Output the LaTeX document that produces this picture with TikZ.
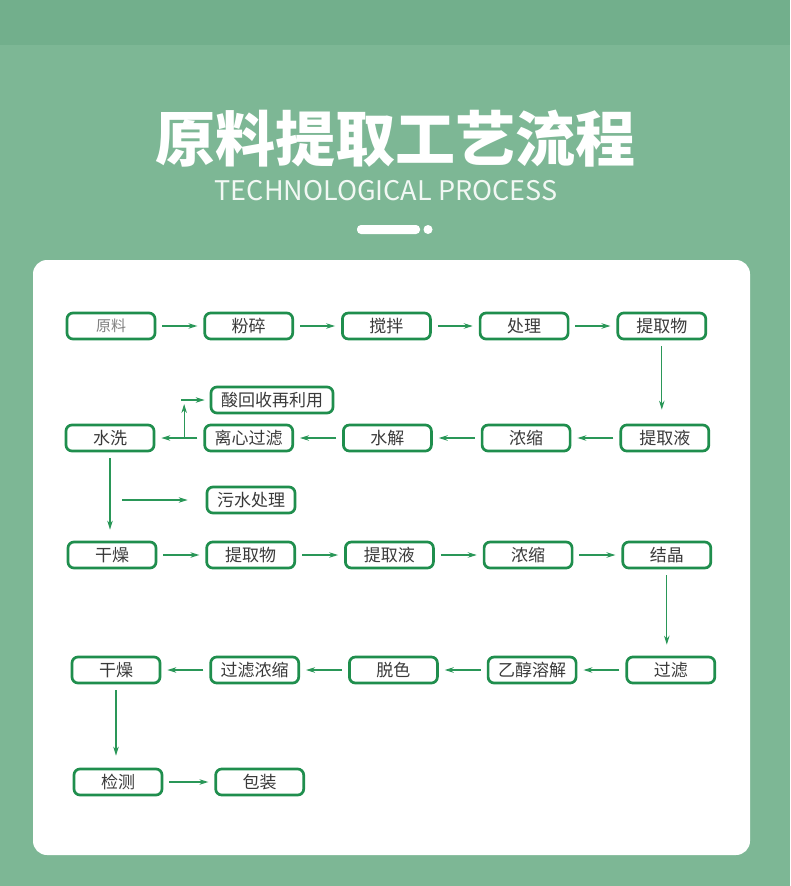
\documentclass[tikz,border=0pt]{standalone}
\usepackage{fontspec}
\setmainfont{Noto Sans CJK SC}
\usetikzlibrary{chains,arrows.meta}
\definecolor{bggreen}{HTML}{7DB795}
\definecolor{topgreen}{HTML}{72AF8C}
\definecolor{boxgreen}{HTML}{1F8E4D}
\definecolor{arrowgreen}{HTML}{2A9758}
\definecolor{textgray}{HTML}{3A3A3A}

\begin{document}
\begin{tikzpicture}[
x=1pt, y=-1pt,
node distance=48pt,
  box/.style = {rectangle, draw=boxgreen, line width=2.7pt,% step boxes
                rounded corners=6pt, minimum width=88pt, minimum height=26pt,
                inner sep=2pt, text=textgray,
                font=\fontsize{17}{17}\selectfont},
    P/.style = {box, on chain},
    A/.style = {draw=arrowgreen, line width=1.1pt,
                -{Stealth[length=9pt,width=5.5pt]},
                shorten <=6pt, shorten >=6pt},
                    ]
\useasboundingbox (0,0) rectangle (790,886);
% background and header
\fill[bggreen] (0,0) rectangle (790,886);
\fill[topgreen] (0,0) rectangle (790,45);
\node[anchor=base, text=white, font=\bfseries\fontsize{60}{60}\selectfont]
    (title) at (395,161) {原料提取工艺流程};
\node[anchor=base, text=white!90!bggreen, font=\fontsize{27}{27}\selectfont]
    (subtitle) at (386,200) {TECHNOLOGICAL PROCESS};
\fill[white, rounded corners=4pt] (357,225) rectangle (420,234);
\fill[white] (428,229.5) circle (4.5);
\fill[white, rounded corners=14pt] (33,260) rectangle (750,855);

% row 1
\begin{scope}[start chain=R1 going right, node distance=47pt]
\node[P, text=gray, font=\fontsize{15}{15}\selectfont] at (111,326) {原料};
\foreach \t in {粉碎,搅拌,处理,提取物}
    \node[P] {\t};
\end{scope}
% row 2
\begin{scope}[start chain=R2 going right]
\node[P] at (110,438) {水洗};
\foreach \t in {离心过滤,水解,浓缩,提取液}
    \node[P] {\t};
\end{scope}
% row 3
\begin{scope}[start chain=R3 going right]
\node[P] at (112,555) {干燥};
\foreach \t in {提取物,提取液,浓缩,结晶}
    \node[P] {\t};
\end{scope}
% row 4
\begin{scope}[start chain=R4 going right]
\node[P] at (116,670) {干燥};
\foreach \t in {过滤浓缩,脱色,乙醇溶解,过滤}
    \node[P] {\t};
\end{scope}
% row 5
\begin{scope}[start chain=R5 going right, node distance=51pt]
\node[P] at (118,782) {检测};
\node[P] {包装};
\end{scope}
% side outputs
\node[box, minimum width=122pt] (acid) at (272,400) {酸回收再利用};
\node[box] (sewage) at (251,500) {污水处理};

% arrows along the rows
\foreach \i [count=\j from 2] in {1,...,4}{
    \draw[A] (R1-\i.east) -- (R1-\j.west);
    \draw[A] (R2-\j.west) -- (R2-\i.east);
    \draw[A] (R3-\i.east) -- (R3-\j.west);
    \draw[A] (R4-\j.west) -- (R4-\i.east);
}
\draw[A] (R5-1.east) -- (R5-2.west);
% arrows between the rows
\draw[A, shorten >=14pt] (R1-5.south) -- (R1-5.south |- R2-5.north);
\draw[A, shorten >=11pt] (R2-1.south) -- (R2-1.south |- R3-1.north);
\draw[A, shorten >=11pt] (R3-5.south) -- (R3-5.south |- R4-5.north);
\draw[A, shorten >=12pt] (R4-1.south) -- (R4-1.south |- R5-1.north);
% branches
\path (R2-2.west) -- coordinate[pos=.4] (br) (R2-1.east);
\coordinate (brtop) at (br |- acid.west);
\draw[A, shorten <=0pt, shorten >=4pt] (br) -- (brtop);
\draw[A, shorten <=-3pt, shorten >=5pt] (brtop) -- (acid.west);
\coordinate (sw) at ([xshift=12pt]R2-1.south |- sewage.west);
\draw[A, shorten <=0pt, shorten >=18pt] (sw) -- (sewage.west);

\end{tikzpicture}
\end{document}
